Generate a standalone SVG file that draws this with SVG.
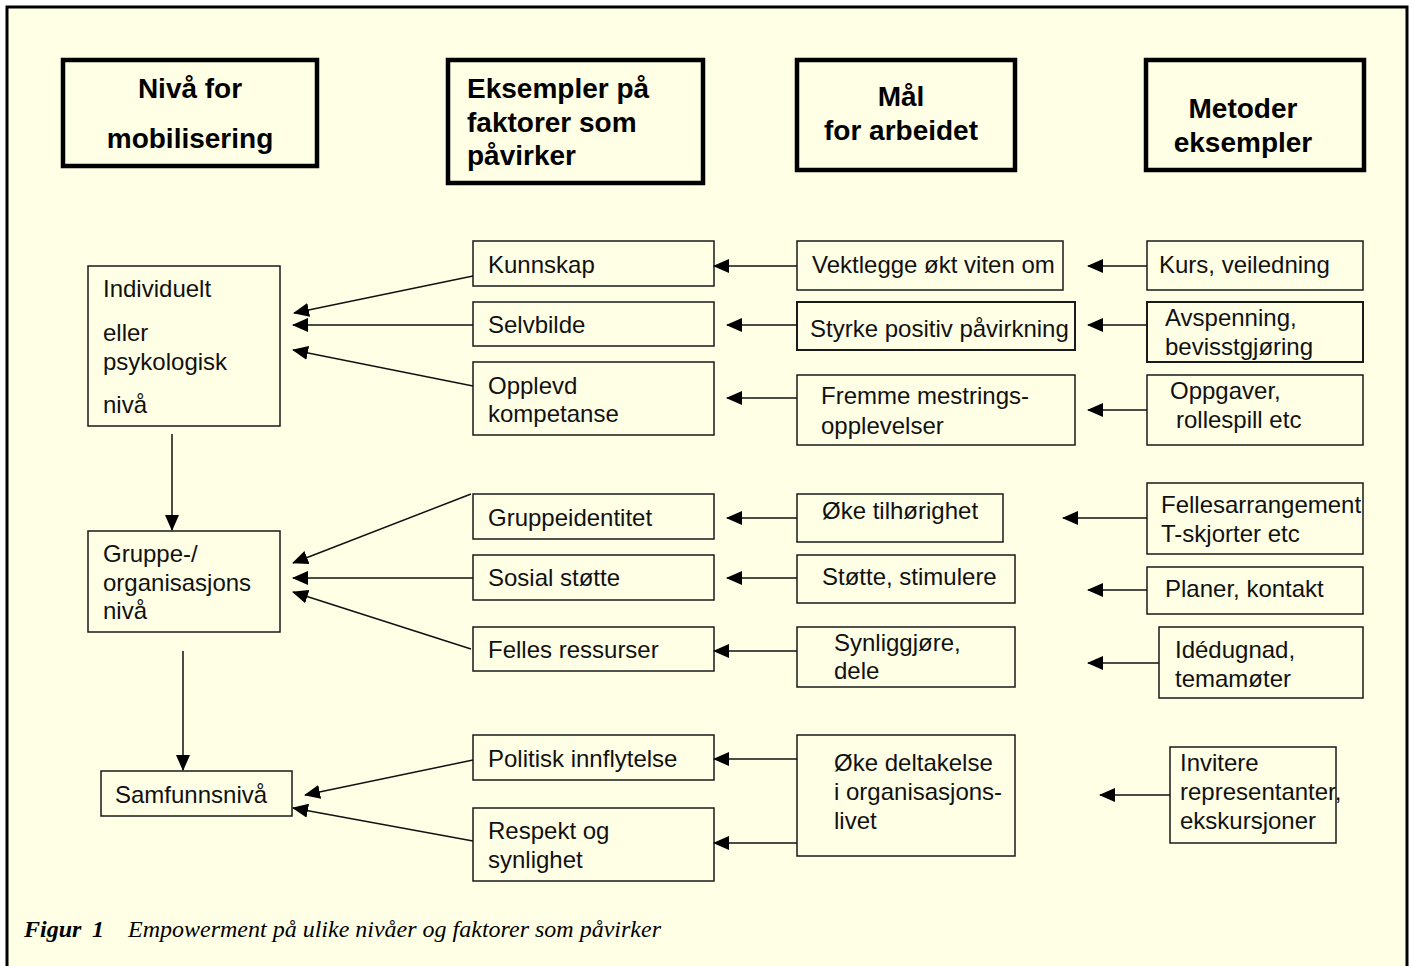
<svg xmlns="http://www.w3.org/2000/svg" width="1412" height="966" viewBox="0 0 1412 966">
<style>
.bg{fill:#FFFFE6}
.hd{fill:none;stroke:#000;stroke-width:4.5}
.bx{fill:none;stroke:#1a1a1a;stroke-width:1.5}
.ht{font-family:"Liberation Sans",Arial,sans-serif;font-weight:bold;font-size:28px;fill:#000}
.t{font-family:"Liberation Sans",Arial,sans-serif;font-size:24px;fill:#111}
.c{stroke:#111;stroke-width:1.5;fill:none;marker-end:url(#ah)}
.cap{font-family:"Liberation Serif","Times New Roman",serif;font-style:italic;font-size:24px;fill:#000}
</style>
<defs>
<marker id="ah" markerUnits="userSpaceOnUse" markerWidth="16" markerHeight="14" refX="15" refY="7" orient="auto">
<path d="M0,0 L16,7 L0,14 Z" fill="#000"/>
</marker>
</defs>
<rect x="0" y="0" width="1412" height="966" fill="#fff"/>
<rect class="bg" x="7" y="7" width="1400" height="970"/>
<path d="M7,970 V7 H1407 V970" fill="none" stroke="#000" stroke-width="3"/>

<g id="h1"><rect class="hd" x="63" y="60" width="254" height="106"/>
<text class="ht" x="190" y="98" text-anchor="middle">Nivå for</text>
<text class="ht" x="190" y="148" text-anchor="middle">mobilisering</text></g>
<g id="h2"><rect class="hd" x="448" y="60" width="255" height="123"/>
<text class="ht" x="467" y="98">Eksempler på</text>
<text class="ht" x="467" y="132">faktorer som</text>
<text class="ht" x="467" y="165">påvirker</text></g>
<g id="h3"><rect class="hd" x="797" y="60" width="218" height="110"/>
<text class="ht" x="901" y="106" text-anchor="middle">Mål</text>
<text class="ht" x="901" y="140" text-anchor="middle">for arbeidet</text></g>
<g id="h4"><rect class="hd" x="1146" y="60" width="218" height="110"/>
<text class="ht" x="1243" y="118" text-anchor="middle">Metoder</text>
<text class="ht" x="1243" y="152" text-anchor="middle">eksempler</text></g>

<g id="n-individ"><rect class="bx" x="88" y="266" width="192" height="160"/>
<text class="t" x="103" y="297">Individuelt</text>
<text class="t" x="103" y="341">eller</text>
<text class="t" x="103" y="370">psykologisk</text>
<text class="t" x="103" y="413">nivå</text></g>
<g id="n-gruppe"><rect class="bx" x="88" y="531" width="192" height="101"/>
<text class="t" x="103" y="562">Gruppe-/</text>
<text class="t" x="103" y="591">organisasjons</text>
<text class="t" x="103" y="619">nivå</text></g>
<g id="n-samfunn"><rect class="bx" x="101" y="771" width="191" height="45"/>
<text class="t" x="115" y="803">Samfunnsnivå</text></g>

<g id="n-kunnskap"><rect class="bx" x="473" y="241" width="241" height="45"/><text class="t" x="488" y="273">Kunnskap</text></g>
<g id="n-selvbilde"><rect class="bx" x="473" y="302" width="241" height="44"/><text class="t" x="488" y="333">Selvbilde</text></g>
<g id="n-opplevd"><rect class="bx" x="473" y="362" width="241" height="73"/><text class="t" x="488" y="394">Opplevd</text><text class="t" x="488" y="422">kompetanse</text></g>
<g id="n-gruppeid"><rect class="bx" x="473" y="494" width="241" height="45"/><text class="t" x="488" y="526">Gruppeidentitet</text></g>
<g id="n-sosial"><rect class="bx" x="473" y="555" width="241" height="45"/><text class="t" x="488" y="586">Sosial støtte</text></g>
<g id="n-felles"><rect class="bx" x="473" y="627" width="241" height="44"/><text class="t" x="488" y="658">Felles ressurser</text></g>
<g id="n-politisk"><rect class="bx" x="473" y="735" width="241" height="45"/><text class="t" x="488" y="767">Politisk innflytelse</text></g>
<g id="n-respekt"><rect class="bx" x="473" y="808" width="241" height="73"/><text class="t" x="488" y="839">Respekt og</text><text class="t" x="488" y="868">synlighet</text></g>

<g id="m-vekt"><rect class="bx" x="797" y="241" width="266" height="49"/><text class="t" x="812" y="273">Vektlegge økt viten om</text></g>
<g id="m-styrke"><rect class="bx" x="797" y="302" width="278" height="48" style="stroke-width:2"/><text class="t" x="810" y="337">Styrke positiv påvirkning</text></g>
<g id="m-fremme"><rect class="bx" x="797" y="375" width="278" height="70"/><text class="t" x="821" y="404">Fremme mestrings-</text><text class="t" x="821" y="434">opplevelser</text></g>
<g id="m-oke"><rect class="bx" x="797" y="494" width="206" height="48"/><text class="t" x="822" y="519">Øke tilhørighet</text></g>
<g id="m-stotte"><rect class="bx" x="797" y="555" width="218" height="48"/><text class="t" x="822" y="585">Støtte, stimulere</text></g>
<g id="m-synlig"><rect class="bx" x="797" y="627" width="218" height="60"/><text class="t" x="834" y="651">Synliggjøre,</text><text class="t" x="834" y="679">dele</text></g>
<g id="m-deltak"><rect class="bx" x="797" y="735" width="218" height="121"/><text class="t" x="834" y="771">Øke deltakelse</text><text class="t" x="834" y="800">i organisasjons-</text><text class="t" x="834" y="829">livet</text></g>

<g id="k-kurs"><rect class="bx" x="1147" y="241" width="216" height="49"/><text class="t" x="1159" y="273">Kurs, veiledning</text></g>
<g id="k-avsp"><rect class="bx" x="1147" y="302" width="216" height="60" style="stroke-width:2"/><text class="t" x="1165" y="326">Avspenning,</text><text class="t" x="1165" y="355">bevisstgjøring</text></g>
<g id="k-oppg"><rect class="bx" x="1147" y="375" width="216" height="70"/><text class="t" x="1170" y="399">Oppgaver,</text><text class="t" x="1176" y="428">rollespill etc</text></g>
<g id="k-felles"><rect class="bx" x="1147" y="483" width="216" height="71"/><text class="t" x="1161" y="513">Fellesarrangement</text><text class="t" x="1161" y="542">T-skjorter etc</text></g>
<g id="k-planer"><rect class="bx" x="1147" y="567" width="216" height="47"/><text class="t" x="1165" y="597">Planer, kontakt</text></g>
<g id="k-ide"><rect class="bx" x="1159" y="627" width="204" height="71"/><text class="t" x="1175" y="658">Idédugnad,</text><text class="t" x="1175" y="687">temamøter</text></g>
<g id="k-inv"><rect class="bx" x="1170" y="747" width="166" height="96"/><text class="t" x="1180" y="771">Invitere</text><text class="t" x="1180" y="800">representanter,</text><text class="t" x="1180" y="829">ekskursjoner</text></g>

<g id="connectors">
<line class="c" x1="172" y1="434" x2="172" y2="530"/>
<line class="c" x1="183" y1="651" x2="183" y2="770"/>
<line class="c" x1="473" y1="276" x2="294" y2="313"/>
<line class="c" x1="473" y1="325" x2="293" y2="325"/>
<line class="c" x1="473" y1="386" x2="293" y2="350"/>
<line class="c" x1="471" y1="494" x2="293" y2="563"/>
<line class="c" x1="473" y1="578" x2="293" y2="578"/>
<line class="c" x1="471" y1="649" x2="293" y2="592"/>
<line class="c" x1="473" y1="760" x2="305" y2="795"/>
<line class="c" x1="473" y1="841" x2="293" y2="808"/>
<line class="c" x1="797" y1="266" x2="714" y2="266"/>
<line class="c" x1="797" y1="325" x2="727" y2="325"/>
<line class="c" x1="797" y1="398" x2="727" y2="398"/>
<line class="c" x1="797" y1="518" x2="727" y2="518"/>
<line class="c" x1="797" y1="578" x2="727" y2="578"/>
<line class="c" x1="797" y1="651" x2="714" y2="651"/>
<line class="c" x1="797" y1="759" x2="714" y2="759"/>
<line class="c" x1="797" y1="843" x2="714" y2="843"/>
<line class="c" x1="1147" y1="266" x2="1088" y2="266"/>
<line class="c" x1="1147" y1="325" x2="1088" y2="325"/>
<line class="c" x1="1147" y1="410" x2="1088" y2="410"/>
<line class="c" x1="1147" y1="518" x2="1063" y2="518"/>
<line class="c" x1="1147" y1="590" x2="1088" y2="590"/>
<line class="c" x1="1159" y1="663" x2="1088" y2="663"/>
<line class="c" x1="1170" y1="795" x2="1100" y2="795"/>
</g>

<text class="cap" x="24" y="937"><tspan font-weight="bold">Figur</tspan><tspan x="92" font-weight="bold">1</tspan><tspan x="128">Empowerment på ulike nivåer og faktorer som påvirker</tspan></text>
</svg>
